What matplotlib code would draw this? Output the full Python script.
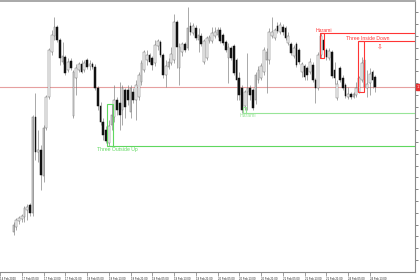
import matplotlib
matplotlib.use("Agg")
import matplotlib.pyplot as plt
from matplotlib.patches import Rectangle
import numpy as np

# ---------------- data (hourly candles) ----------------
opens = [1.1068, 1.1073, 1.1079, 1.1081, 1.1083, 1.1090, 1.1095, 1.1087, 1.1183, 1.1148,
         1.1150, 1.1124, 1.1172, 1.1203, 1.1248, 1.1264, 1.1273, 1.1260, 1.1238, 1.1243,
         1.1230, 1.1239, 1.1184, 1.1222, 1.1230, 1.1236, 1.1230, 1.1240, 1.1234, 1.1236,
         1.1233, 1.1212, 1.1194, 1.1178, 1.1170, 1.1157, 1.1175, 1.1183, 1.1200, 1.1197,
         1.1190, 1.1210, 1.1210, 1.1188, 1.1208, 1.1200, 1.1203, 1.1218, 1.1230, 1.1240,
         1.1245, 1.1242, 1.1237, 1.1254, 1.1258, 1.1245, 1.1225, 1.1233, 1.1237, 1.1240,
         1.1278, 1.1232, 1.1248, 1.1256, 1.1252, 1.1274, 1.1267, 1.1272, 1.1260, 1.1264,
         1.1238, 1.1242, 1.1259, 1.1259, 1.1264, 1.1265, 1.1270, 1.1265, 1.1258, 1.1242,
         1.1252, 1.1254, 1.1240, 1.1222, 1.1212, 1.1194, 1.1208, 1.1212, 1.1210, 1.1200,
         1.1220, 1.1222, 1.1228, 1.1240, 1.1240, 1.1264, 1.1262, 1.1274, 1.1268, 1.1273,
         1.1272, 1.1257, 1.1256, 1.1244, 1.1256, 1.1250, 1.1228, 1.1234, 1.1232, 1.1228,
         1.1235, 1.1220, 1.1212, 1.1245, 1.1260, 1.1250, 1.1242, 1.1248, 1.1230, 1.1202,
         1.1232, 1.1222, 1.1215, 1.1203, 1.1206, 1.1203, 1.1205, 1.1208, 1.1220, 1.1240,
         1.1212, 1.1217, 1.1228, 1.1223]
highs = [1.1078, 1.1082, 1.1084, 1.1086, 1.1094, 1.1096, 1.1097, 1.1185, 1.1207, 1.1170,
         1.1155, 1.1175, 1.1205, 1.1252, 1.1270, 1.1283, 1.1275, 1.1262, 1.1258, 1.1245,
         1.1242, 1.1242, 1.1230, 1.1236, 1.1238, 1.1240, 1.1240, 1.1242, 1.1240, 1.1238,
         1.1236, 1.1214, 1.1198, 1.1182, 1.1174, 1.1180, 1.1196, 1.1215, 1.1203, 1.1218,
         1.1215, 1.1212, 1.1215, 1.1215, 1.1212, 1.1220, 1.1228, 1.1240, 1.1250, 1.1250,
         1.1247, 1.1244, 1.1260, 1.1261, 1.1260, 1.1247, 1.1240, 1.1242, 1.1253, 1.1286,
         1.1280, 1.1257, 1.1258, 1.1258, 1.1293, 1.1278, 1.1277, 1.1275, 1.1272, 1.1267,
         1.1261, 1.1264, 1.1265, 1.1273, 1.1273, 1.1273, 1.1273, 1.1267, 1.1260, 1.1257,
         1.1254, 1.1256, 1.1242, 1.1228, 1.1215, 1.1210, 1.1247, 1.1215, 1.1212, 1.1228,
         1.1234, 1.1237, 1.1253, 1.1252, 1.1272, 1.1283, 1.1272, 1.1278, 1.1278, 1.1276,
         1.1274, 1.1268, 1.1258, 1.1255, 1.1258, 1.1252, 1.1238, 1.1236, 1.1234, 1.1242,
         1.1238, 1.1222, 1.1248, 1.1267, 1.1264, 1.1252, 1.1252, 1.1250, 1.1238, 1.1220,
         1.1234, 1.1225, 1.1217, 1.1213, 1.1208, 1.1208, 1.1218, 1.1224, 1.1243, 1.1245,
         1.1230, 1.1232, 1.1230, 1.1225]
lows = [1.1065, 1.1070, 1.1076, 1.1078, 1.1078, 1.1080, 1.1084, 1.1084, 1.1140, 1.1138,
        1.1110, 1.1118, 1.1170, 1.1201, 1.1245, 1.1260, 1.1258, 1.1235, 1.1236, 1.1225,
        1.1228, 1.1230, 1.1182, 1.1205, 1.1228, 1.1227, 1.1228, 1.1231, 1.1230, 1.1231,
        1.1210, 1.1190, 1.1175, 1.1160, 1.1157, 1.1154, 1.1170, 1.1178, 1.1185, 1.1170,
        1.1175, 1.1182, 1.1195, 1.1182, 1.1197, 1.1180, 1.1200, 1.1215, 1.1228, 1.1235,
        1.1236, 1.1230, 1.1234, 1.1250, 1.1243, 1.1222, 1.1213, 1.1231, 1.1235, 1.1237,
        1.1232, 1.1215, 1.1244, 1.1248, 1.1250, 1.1265, 1.1265, 1.1260, 1.1248, 1.1254,
        1.1236, 1.1240, 1.1257, 1.1257, 1.1262, 1.1263, 1.1257, 1.1255, 1.1248, 1.1217,
        1.1240, 1.1225, 1.1200, 1.1200, 1.1187, 1.1190, 1.1190, 1.1200, 1.1190, 1.1196,
        1.1217, 1.1220, 1.1225, 1.1207, 1.1236, 1.1262, 1.1260, 1.1267, 1.1266, 1.1265,
        1.1260, 1.1255, 1.1245, 1.1242, 1.1233, 1.1236, 1.1223, 1.1220, 1.1220, 1.1226,
        1.1218, 1.1197, 1.1210, 1.1242, 1.1248, 1.1240, 1.1240, 1.1222, 1.1216, 1.1200,
        1.1218, 1.1210, 1.1202, 1.1201, 1.1201, 1.1202, 1.1203, 1.1207, 1.1218, 1.1210,
        1.1203, 1.1205, 1.1212, 1.1208]
closes = [1.1075, 1.1080, 1.1082, 1.1084, 1.1092, 1.1093, 1.1087, 1.1183, 1.1148, 1.1150,
          1.1125, 1.1172, 1.1203, 1.1250, 1.1265, 1.1273, 1.1260, 1.1242, 1.1244, 1.1227,
          1.1238, 1.1232, 1.1228, 1.1232, 1.1236, 1.1228, 1.1237, 1.1233, 1.1236, 1.1233,
          1.1212, 1.1194, 1.1178, 1.1165, 1.1159, 1.1174, 1.1185, 1.1200, 1.1190, 1.1185,
          1.1212, 1.1193, 1.1200, 1.1212, 1.1200, 1.1215, 1.1225, 1.1237, 1.1248, 1.1245,
          1.1238, 1.1235, 1.1255, 1.1259, 1.1245, 1.1225, 1.1234, 1.1238, 1.1246, 1.1278,
          1.1253, 1.1253, 1.1256, 1.1250, 1.1272, 1.1268, 1.1274, 1.1262, 1.1265, 1.1256,
          1.1259, 1.1262, 1.1263, 1.1267, 1.1268, 1.1270, 1.1259, 1.1257, 1.1250, 1.1253,
          1.1242, 1.1227, 1.1220, 1.1205, 1.1190, 1.1208, 1.1212, 1.1205, 1.1192, 1.1225,
          1.1230, 1.1234, 1.1250, 1.1248, 1.1268, 1.1268, 1.1270, 1.1269, 1.1275, 1.1268,
          1.1262, 1.1264, 1.1247, 1.1252, 1.1235, 1.1238, 1.1236, 1.1223, 1.1225, 1.1238,
          1.1220, 1.1212, 1.1245, 1.1264, 1.1250, 1.1243, 1.1249, 1.1224, 1.1222, 1.1216,
          1.1220, 1.1212, 1.1204, 1.1206, 1.1203, 1.1206, 1.1212, 1.1222, 1.1237, 1.1213,
          1.1216, 1.1226, 1.1220, 1.1213]

time_labels = ["14 Feb 2020", "17 Feb 05:00", "17 Feb 13:00", "17 Feb 21:00",
               "18 Feb 05:00", "18 Feb 13:00", "18 Feb 21:00",
               "19 Feb 05:00", "19 Feb 13:00", "19 Feb 21:00",
               "20 Feb 05:00", "20 Feb 13:00", "20 Feb 21:00",
               "21 Feb 05:00", "21 Feb 13:00", "21 Feb 21:00",
               "24 Feb 05:00", "24 Feb 13:00"]
label_bars = [-5, 3, 11, 19, 27, 35, 43, 51, 59, 67, 75, 83, 91, 99, 107, 115, 123, 131]

# candlestick patterns found by the indicator
pat_names = ["Three Outside Up", "Harami", "Harami", "Three Inside Down"]
pat_bull = [True, True, False, False]
pat_start = [34.5, 84.4, 112.6, 126.5]
pat_end = [36.5, 85.5, 114.0, 129.0]
pat_top = [1.1196, 1.1193, 1.1267, 1.1259]
pat_bottom = [1.1154, 1.1187, 1.1242, 1.1208]
pat_text_bar = [30.8, 83.0, 111.2, 122.3]
pat_text_price = [1.1149, 1.11827, 1.12677, 1.12595]
pat_colors = ["#5fd85f", "#98e598", "#ff3535", "#ff3535"]
arrow_bar = 134.6
arrow_price = 1.1253

price_ticks = [1.1040 + 0.00118 * k for k in range(22)]

# ---------------- figure ----------------
W, H = 420, 280
fig = plt.figure(figsize=(W / 100, H / 100), dpi=100)
fig.patch.set_facecolor("white")
ax = fig.add_axes([0, 8 / H, 415 / W, 271 / H])
ax.set_facecolor("white")

n = len(opens)
idx = np.arange(n)
o = np.array(opens); c = np.array(closes)
hi = np.array(highs); lo = np.array(lows)

xmin, xmax = -0.607, 147.6
ax.set_xlim(xmin, xmax)
ax.set_ylim(1.1028, 1.1299)

# bid line
ax.axhline(closes[-1], color="#e6a0a0", lw=0.8, zorder=1)

# wicks
ax.vlines(idx, lo, hi, color="#7a7a7a", lw=0.45, zorder=2)
# bodies
bull = c >= o
bottoms = np.minimum(o, c)
heights = np.maximum(np.abs(c - o), 0.00004)
faces = ["white" if b else "#111111" for b in bull]
edges = ["#6a6a6a" if b else "#111111" for b in bull]
ax.bar(idx, heights, bottom=bottoms, width=0.62, color=faces,
       edgecolor=edges, linewidth=0.35, zorder=3)

# pattern annotations
for name, bu, s, e, t, b, tb, tp, col in zip(pat_names, pat_bull, pat_start, pat_end,
                                                pat_top, pat_bottom, pat_text_bar,
                                                pat_text_price, pat_colors):
    ax.add_patch(Rectangle((s, b), e - s, t - b, fill=False, edgecolor=col,
                           lw=0.8, zorder=4))
    level = b if bu else t
    ax.hlines(level, s, xmax, color=col, lw=0.8, zorder=4)
    ax.text(tb, tp, name, color=col, fontsize=3.7, family="Liberation Sans",
            ha="left", va="baseline", zorder=5)

ax.text(arrow_bar, arrow_price, "\u21e9", color="#ff4040", fontsize=5,
        family="DejaVu Sans", ha="center", va="center", zorder=5)

# axes styling
ax.spines["left"].set_visible(False)
for side in ["top", "right", "bottom"]:
    ax.spines[side].set_color("#8a8a8a")
    ax.spines[side].set_linewidth(0.8)
ax.spines["top"].set_color("#a8a8a8")
ax.spines["top"].set_linewidth(1.4)

ax.yaxis.tick_right()
ax.set_yticks(price_ticks)
ax.set_yticklabels([f"{v:.4f}" for v in price_ticks])
ax.tick_params(axis="y", which="major", length=2.2, width=0.5, color="#555555",
               labelsize=2.2, pad=0.8, labelcolor="#222222")
ax.set_xticks(label_bars)
ax.set_xticklabels(time_labels, ha="left", family="Liberation Sans")
ax.tick_params(axis="x", which="major", length=3, width=0.4, color="#555555",
               labelsize=2.0, pad=0.6, labelcolor="#222222")
ax.tick_params(axis="y", labelleft=False, left=False)

# current price box on the right axis
ax.annotate(f"{closes[-1]:.4f}", xy=(1.0, closes[-1]),
            xycoords=("axes fraction", "data"), xytext=(1.5, 0),
            textcoords="offset points", fontsize=2.4, color="white",
            va="center", ha="left",
            bbox=dict(boxstyle="square,pad=0.3", fc="#e83030", ec="#e83030"))

fig.savefig("out.png", dpi=100, facecolor="white")
